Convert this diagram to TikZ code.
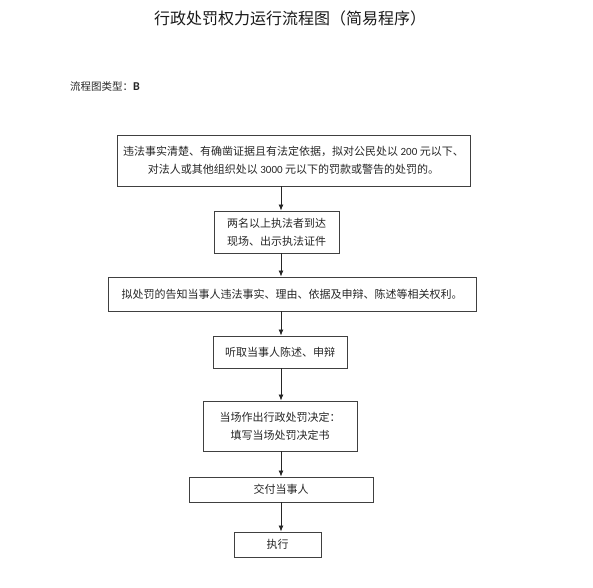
\documentclass[tikz,border=0pt]{standalone}
\usepackage{fontspec}
\setmainfont{Noto Sans CJK SC}
\newfontfamily\lat{Carlito}
\usetikzlibrary{arrows.meta}
\tikzset{
  box/.style={draw=black!75, line width=0.95pt, inner sep=0pt, font=\fontsize{11pt}{18pt}\selectfont, text=black!85, align=center},
  arr/.style={draw=black!85, line width=0.8pt, -{Latex[length=6pt,width=5pt]}},
}
\begin{document}
\begin{tikzpicture}[x=1pt,y=-1pt]
\useasboundingbox (0,0) rectangle (593,587);
\node[font=\fontsize{16pt}{18pt}\selectfont, text=black!90] (title) at (290,18) {行政处罚权力运行流程图（简易程序）};
\node[anchor=west, font=\fontsize{10.5pt}{12pt}\selectfont, text=black!85, inner sep=0pt] (type) at (70,87) {流程图类型：{\lat\bfseries\fontsize{12pt}{12pt}\selectfont B}};
\coordinate (ax) at (281,0);
\node[box, minimum width=353pt, minimum height=51pt] (b1) at (293.5,160.5) {违法事实清楚、有确凿证据且有法定依据，拟对公民处以 {\lat 200} 元以下、\\对法人或其他组织处以 {\lat 3000} 元以下的罚款或警告的处罚的。};
\node[box, minimum width=125pt, minimum height=42pt] (b2) at (276.5,232) {两名以上执法者到达\\现场、出示执法证件};
\node[box, minimum width=368pt, minimum height=34pt] (b3) at (292,294) {拟处罚的告知当事人违法事实、理由、依据及申辩、陈述等相关权利。};
\node[box, minimum width=134pt, minimum height=32pt] (b4) at (280,352) {听取当事人陈述、申辩};
\node[box, minimum width=154pt, minimum height=50pt, align=left] (b5) at (280,426) {当场作出行政处罚决定：\\\hspace*{11pt}填写当场处罚决定书};
\node[box, minimum width=184pt, minimum height=25pt] (b6) at (281,489.5) {交付当事人};
\node[box, minimum width=87pt, minimum height=25pt] (b7) at (277.5,544.5) {执行};
\draw[arr] (b1.south -| ax) -- (b2.north -| ax);
\draw[arr] (b2.south -| ax) -- (b3.north -| ax);
\draw[arr] (b3.south -| ax) -- (b4.north -| ax);
\draw[arr] (b4.south -| ax) -- (b5.north -| ax);
\draw[arr] (b5.south -| ax) -- (b6.north -| ax);
\draw[arr] (b6.south -| ax) -- (b7.north -| ax);
\end{tikzpicture}
\end{document}
